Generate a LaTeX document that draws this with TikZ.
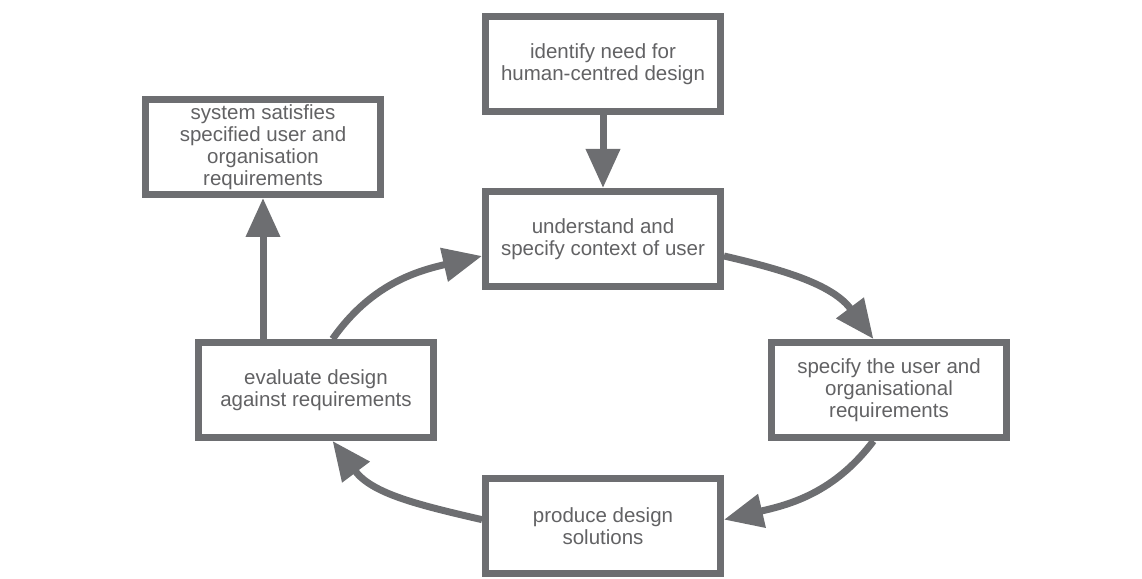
\documentclass[tikz,border=0pt]{standalone}
\usepackage{fontspec}
\setsansfont{Liberation Sans}
\usetikzlibrary{arrows.meta}
\definecolor{linhacinza}{RGB}{109,110,113}
\definecolor{textocinza}{RGB}{98,98,100}

\begin{document}
\begin{tikzpicture}[
        x=1pt, y=1pt,
        font=\sffamily\fontsize{20.5}{22}\selectfont,
        caixa/.style={
            draw=linhacinza, line width=7pt, fill=white,
            minimum width=235pt, minimum height=95pt,
            align=center, text=textocinza, inner sep=0pt
        },
        seta/.style={
            draw=linhacinza, line width=7pt,
            -{Triangle[width=33pt,length=39pt]}
        }
    ]

    \useasboundingbox (0,0) rectangle (1142,578);

    % Caixas
    \node[caixa] (identify) at (603,514) {identify need for\\human-centred design};
    \node[caixa] (understand) at (603,339) {understand and\\specify context of user};
    \node[caixa] (system) at (263,431) {system satisfies\\specified user and\\organisation\\requirements};
    \node[caixa] (evaluate) at (316,188) {evaluate design\\against requirements};
    \node[caixa] (specify) at (889,188) {specify the user and\\organisational\\requirements};
    \node[caixa] (produce) at (603,52) {produce design\\solutions};

    % Setas
    \draw[seta] (identify) -- (understand);
    \draw[seta] (system.south |- evaluate.north) -- (system.south);

    % Ciclo
    \draw[seta] (understand.-8) to[out=-13, in=127] (specify.107);
    \draw[seta] (specify.253) to[out=-127, in=13] (produce.3);
    \draw[seta] (produce.177) to[out=167, in=-53] (evaluate.-72);
    \draw[seta] (evaluate.72) to[out=55, in=193] (understand.188);

\end{tikzpicture}
\end{document}
